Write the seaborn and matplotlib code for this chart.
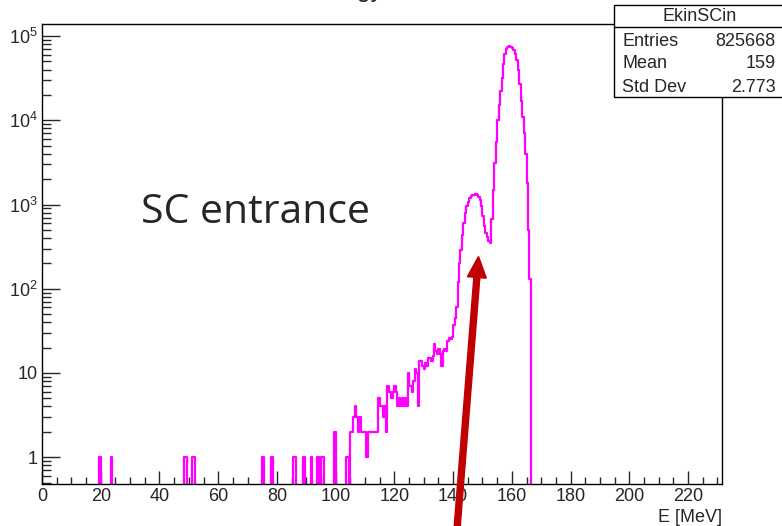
import matplotlib.pyplot as plt
import matplotlib.ticker as mticker
from matplotlib.patches import Rectangle, FancyArrow
from matplotlib.lines import Line2D
from matplotlib.transforms import IdentityTransform
import numpy as np
import pandas as pd
import seaborn as sns

# histogram contents, 0.5 MeV bins, only the non-empty ones (left bin edge, entries)
bin_lo = [19.5, 23.5, 48.5, 49.0, 51.0, 51.5, 75.0, 78.0, 85.5, 86.0, 89.0, 91.5,
          93.5, 94.0, 95.0, 95.5, 99.5, 103.5, 104.0,
          105.0, 105.5, 106.0, 106.5, 107.0, 107.5, 108.0, 108.5, 109.0, 109.5,
          110.0, 110.5, 111.0, 111.5, 112.0, 112.5, 113.0, 113.5, 114.0,
          114.5, 115.0, 115.5, 116.0, 116.5, 117.0, 117.5, 118.0, 118.5, 119.0,
          119.5, 120.0, 120.5, 121.0, 121.5,
          122.0, 122.5, 123.0, 123.5, 124.0, 124.5, 125.0, 125.5, 126.0, 126.5,
          127.0, 127.5, 128.0, 128.5, 129.0, 129.5, 130.0, 130.5, 131.0, 131.5,
          132.0, 132.5, 133.0, 133.5, 134.0, 134.5, 135.0, 135.5, 136.0, 136.5,
          137.0, 137.5, 138.0, 138.5, 139.0, 139.5, 140.0, 140.5,
          141.0, 141.5, 142.0, 142.5, 143.0, 143.5, 144.0, 144.5, 145.0, 145.5,
          146.0, 146.5, 147.0, 147.5, 148.0, 148.5, 149.0, 149.5, 150.0, 150.5,
          151.0, 151.5, 152.0, 152.5, 153.0, 153.5, 154.0, 154.5, 155.0, 155.5,
          156.0, 156.5, 157.0, 157.5, 158.0, 158.5, 159.0, 159.5, 160.0, 160.5,
          161.0, 161.5, 162.0, 162.5, 163.0, 163.5, 164.0, 164.5, 165.0, 165.5,
          166.0]
counts = [1, 1, 1, 1, 1, 1, 1, 1, 1, 1, 1, 1,
          1, 1, 1, 1, 2, 1, 1,
          2, 2, 3, 4, 3, 2, 3, 2, 2, 2,
          2, 1, 2, 2, 2, 2, 2, 2, 2,
          5, 4, 4, 3, 4, 2, 7, 6, 6, 5,
          6, 7, 6, 4, 5,
          4, 5, 4, 5, 4, 10, 7, 7, 6, 8,
          11, 10, 4, 14, 14, 12, 11, 13, 12, 15,
          15, 14, 16, 22, 18, 17, 19, 17, 12, 18,
          19, 18, 24, 26, 25, 27, 37, 45,
          60, 120, 200, 290, 430, 600, 800, 950, 1080, 1180,
          1250, 1280, 1310, 1320, 1300, 1240, 1130, 950, 730, 560,
          460, 410, 370, 350, 680, 1500, 3150, 5500, 10000, 15000,
          22000, 32000, 47000, 62000, 70000, 74000, 75500, 75000, 73000, 68000,
          62000, 52000, 40000, 27000, 17000, 11000, 7000, 4000, 1800, 500,
          130]
bin_width = 0.5

x_ticks = [0, 20, 40, 60, 80, 100, 120, 140, 160, 180, 200, 220]
y_ticks = [1, 10, 100, 1000, 10000, 100000]
y_labels = ["1", "10", "$10^{2}$", "$10^{3}$", "$10^{4}$", "$10^{5}$"]

stats_name = "EkinSCin"
stats_rows = [("Entries", "825668"), ("Mean", "159"), ("Std Dev", "2.773")]

sns.set_style("ticks")
plt.rcParams["font.family"] = ["Liberation Sans", "DejaVu Sans"]
plt.rcParams["mathtext.fontset"] = "custom"
plt.rcParams["mathtext.rm"] = "Liberation Sans"
plt.rcParams["mathtext.default"] = "regular"

W, H = 782, 526
fig = plt.figure(figsize=(W / 100, H / 100), dpi=100)
ax = fig.add_axes([42 / W, 42.5 / H, 679.5 / W, 459.5 / H])

edges = list(np.arange(0, 232 + bin_width / 2, bin_width))
df = pd.DataFrame({"E": np.array(bin_lo) + bin_width / 2, "n": counts})
sns.histplot(data=df, x="E", weights="n", bins=edges, element="step", fill=False,
             color="#ff00ff", linewidth=1.6, ax=ax)

ax.set_yscale("log")
ax.set_xlim(0, 231.4)
ax.set_ylim(0.487, 1.39e5)
ax.set_ylabel("")
ax.set_xticks(x_ticks)
ax.xaxis.set_minor_locator(mticker.MultipleLocator(5))
ax.set_yticks(y_ticks, y_labels)
ax.yaxis.set_minor_locator(mticker.LogLocator(base=10, subs=np.arange(2, 10), numticks=20))
ax.yaxis.set_minor_formatter(mticker.NullFormatter())

ax.tick_params(axis="y", which="major", direction="in", length=13, width=1, labelsize=13, pad=3)
ax.tick_params(axis="y", which="minor", direction="in", length=6.5, width=1)
ax.tick_params(axis="x", which="major", direction="in", length=9.5, width=1, labelsize=13, pad=3)
ax.tick_params(axis="x", which="minor", direction="in", length=5, width=1)
for s in ax.spines.values():
    s.set_color("black")
    s.set_linewidth(1)

ax.set_xlabel("E [MeV]", fontsize=13)
ax.xaxis.label.set_ha("right")
ax.xaxis.label.set_va("center")
ax.xaxis.set_label_coords(1.0, -0.075)

# title: in the reference only its descenders show at the top edge
fig.text(383 / W, 1 + 3 / H, "Kinetic Energy", ha="right", va="baseline", fontsize=18)

# stats box
box = Rectangle((614 / W, 1 - 97 / H), 0.3, 92 / H, transform=fig.transFigure,
                facecolor="white", edgecolor="black", linewidth=1, zorder=5)
fig.add_artist(box)
fig.add_artist(Line2D([614 / W, 1.0], [1 - 27 / H, 1 - 27 / H], transform=fig.transFigure,
                      color="black", linewidth=1, zorder=6))
fig.text(700 / W, 1 - 16.5 / H, stats_name, ha="center", va="center", fontsize=13, zorder=7)
for i, (k, v) in enumerate(stats_rows):
    yy = 1 - (41 + 23 * i) / H
    fig.text(622 / W, yy, k, ha="left", va="center", fontsize=13, zorder=7)
    fig.text(776 / W, yy, v, ha="right", va="center", fontsize=13, zorder=7)

# annotation
fig.text(141 / W, 1 - 223.5 / H, "SC entrance", family=["Open Sans", "DejaVu Sans"],
         fontsize=29.5, ha="left", va="baseline")
arrow = FancyArrow(457, -3, 21.5, 272.5, width=6, head_width=19, head_length=21,
                   length_includes_head=True, color="#c00000", transform=IdentityTransform())
fig.add_artist(arrow)

fig.savefig("out.png", dpi=100)
